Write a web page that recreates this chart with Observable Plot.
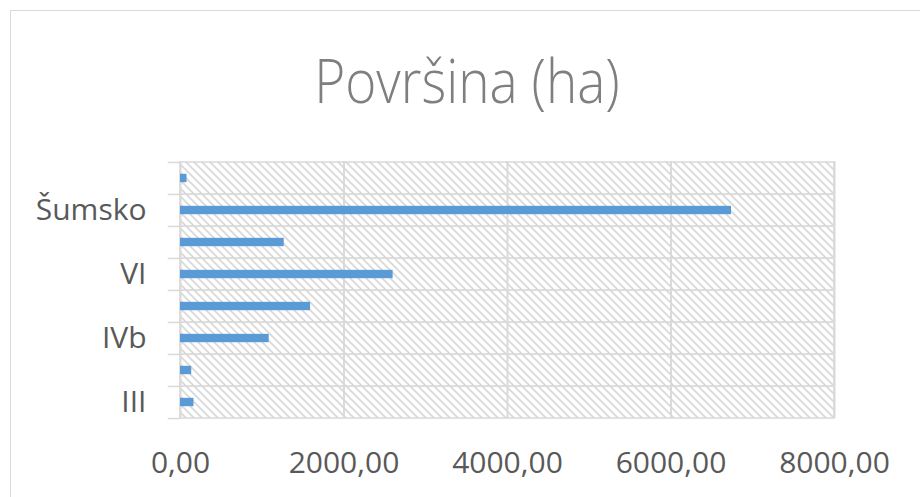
<!DOCTYPE html>
<html>
<head>
<meta charset="utf-8">
<script src="https://cdn.jsdelivr.net/npm/d3@7"></script>
<script src="https://cdn.jsdelivr.net/npm/@observablehq/plot@0.6"></script>
<style>
  html, body { margin: 0; padding: 0; background: #fff; }
  #wrap { position: relative; width: 920px; height: 497px; overflow: hidden; font-family: "Open Sans", sans-serif; }
  #border { position: absolute; left: 10px; top: 10px; width: 960px; height: 560px; border: 1.5px solid #d9d9d9; box-sizing: border-box; }
  #title { position: absolute; left: 0; width: 934px; top: 40px; text-align: center; font-family: "Open Sans", sans-serif; font-weight: 300; font-size: 60px; color: #7f7f7f; line-height: 80px; white-space: nowrap; transform: scaleX(0.885); transform-origin: 467px 0; }
  #chart { position: absolute; left: 0; top: 0; }
</style>
</head>
<body>
<div id="wrap">
  <div id="border"></div>
  <div id="title">Površina (ha)</div>
  <div id="chart"></div>
</div>
<script>
// Data (bottom to top)
const categories = ["III", "IVa", "IVb", "V", "VI", "VII", "Šumsko", "Neplodno"];
const values = [165, 137, 1085, 1591, 2601, 1269, 6740, 80];
const shownLabels = ["III", "IVb", "VI", "Šumsko"];
const xTicks = [0, 2000, 4000, 6000, 8000];

const data = categories.map((c, i) => ({category: c, value: values[i]}));

const W = 920, H = 497;
const mTop = 161, mBottom = 79, mLeft = 180, mRight = 86;
const step = (H - mTop - mBottom) / categories.length;
const barThick = 8.5;
const inset = (step - barThick) / 2;
const grid = "#d9d9d9";

const fmt = v => v.toFixed(2).replace(".", ",");

const plot = Plot.plot({
  width: W,
  height: H,
  marginTop: mTop,
  marginBottom: mBottom,
  marginLeft: mLeft,
  marginRight: mRight,
  style: {fontFamily: "Open Sans, sans-serif", fontSize: "30px", color: "#595959", background: "transparent"},
  x: {domain: [0, 8000], ticks: xTicks, tickFormat: fmt, tickSize: 0, tickPadding: 33, label: null},
  y: {domain: [...categories].reverse(), padding: 0, tickSize: 0, tickPadding: 34, label: null,
      tickFormat: d => shownLabels.includes(d) ? d : ""},
  marks: [
    // hatched band backgrounds with horizontal grid boundaries
    Plot.barX(categories, {y: d => d, x1: 0, x2: 8000, fill: "url(#hatch)", stroke: grid, strokeWidth: 1.5}),
    // vertical gridlines
    Plot.ruleX(xTicks, {stroke: grid, strokeWidth: 2}),
    // left tick marks at band boundaries
    Plot.ruleY(categories, {y: d => d, x1: -150, x2: 0, dy: -step / 2, stroke: grid, strokeWidth: 1.5}),
    Plot.ruleY([categories[0]], {y: d => d, x1: -150, x2: 0, dy: step / 2, stroke: grid, strokeWidth: 1.5}),
    // bars
    Plot.barX(data, {y: "category", x: "value", fill: "#5B9BD5", insetTop: inset, insetBottom: inset})
  ]
});

// hatch pattern definition
const defs = d3.select(plot).insert("defs", ":first-child");
const pat = defs.append("pattern")
  .attr("id", "hatch")
  .attr("patternUnits", "userSpaceOnUse")
  .attr("width", 8).attr("height", 8);
pat.append("rect").attr("width", 8).attr("height", 8).attr("fill", "#ffffff");
pat.append("path")
  .attr("d", "M0,0 L8,8 M-2,6 L2,10 M6,-2 L10,2")
  .attr("stroke", "#d9d9d9").attr("stroke-width", 1.8);

document.getElementById("chart").appendChild(plot);
</script>
</body>
</html>
